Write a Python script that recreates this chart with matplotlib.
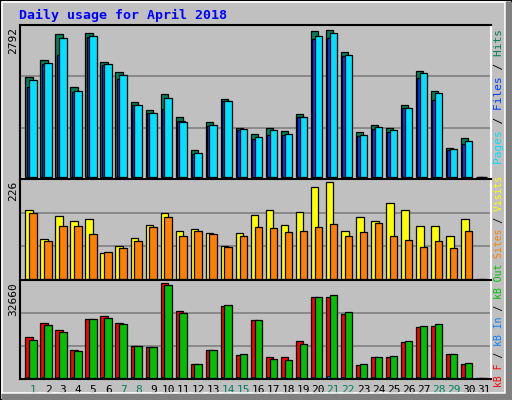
import matplotlib
matplotlib.use("Agg")
import matplotlib.pyplot as plt
from matplotlib.patches import Rectangle
import numpy as np

days = list(range(1, 32))
day_labels = [str(d) for d in days]
weekend = [1, 7, 8, 14, 15, 21, 22, 28, 29]

hits = [1903, 2224, 2716, 1714, 2735, 2187, 1998, 1431, 1280, 1582, 1147, 505, 1034, 1487, 920,
        807, 920, 864, 1204, 2773, 2792, 2376, 845, 977, 920, 1374, 2019, 1641, 542, 731, 0]
files = [1847, 2174, 2640, 1639, 2678, 2149, 1941, 1374, 1223, 1506, 1034, 448, 977, 1450, 902,
         750, 883, 807, 1147, 2678, 2735, 2319, 788, 939, 883, 1317, 1979, 1601, 524, 675, 0]
pages = [1714, 2155, 2319, 1620, 2659, 2130, 1865, 1361, 1210, 1285, 1058, 435, 964, 1436, 888,
         718, 794, 794, 1134, 2627, 2646, 2306, 775, 907, 850, 1304, 1890, 1455, 510, 624, 0]
visits = [160, 94, 148, 135, 140, 60, 77, 96, 126, 155, 111, 116, 106, 77, 106,
          150, 162, 126, 157, 214, 226, 111, 145, 135, 177, 162, 123, 123, 101, 140, 0]
sites = [153, 89, 123, 123, 104, 62, 72, 89, 121, 145, 99, 111, 104, 74, 99,
         121, 118, 109, 111, 121, 128, 101, 109, 131, 99, 91, 74, 89, 72, 111, 0]
kbf = [14000, 19000, 16500, 9700, 20450, 21200, 19000, 11000, 10750, 32660, 23000, 4670, 9700, 24870, 7890,
       20100, 7180, 7180, 12560, 27990, 27990, 21900, 4300, 7180, 7180, 12200, 17580, 17940, 8250, 4670, 0]
kbout = [12900, 18300, 15800, 9330, 20450, 20800, 18650, 11000, 10750, 31900, 22250, 4670, 9700, 25240, 8250,
         20100, 6460, 6100, 11480, 27990, 28700, 22600, 4670, 7180, 7540, 12560, 17940, 18650, 8250, 5020, 0]
kbin = [300, 300, 300, 300, 300, 300, 300, 150, 150, 150, 150, 150, 150, 300, 150,
        150, 150, 150, 150, 300, 500, 300, 150, 150, 150, 150, 300, 300, 150, 150, 0]

GRAY = "#c0c0c0"
fig = plt.figure(figsize=(5.12, 4.0), dpi=100, facecolor=GRAY)
W, H = 512, 400

def axes_px(x0, y0, x1, y1):
    return fig.add_axes([x0 / W, 1 - y1 / H, (x1 - x0) / W, (y1 - y0) / H])

x = np.array(days, dtype=float)
ew = 0.9
xl = (0.13, 31.5)

def style(ax, vmax):
    ax.set_facecolor(GRAY)
    ax.set_xlim(*xl)
    ax.set_ylim(-vmax * 0.015, vmax * 1.035)
    lo, hi = ax.get_ylim()
    for f in (1 / 3, 2 / 3):
        ax.axhline(lo + f * (hi - lo), color="#808080", lw=1.2, zorder=0)
    ax.set_yticks([])
    ax.spines["left"].set_color("black")
    ax.spines["top"].set_color("black")
    ax.spines["right"].set_color("white")
    ax.spines["bottom"].set_color("white")
    for s in ax.spines.values():
        s.set_linewidth(1.5)

ax1 = axes_px(20, 25, 491, 179)
ax1.bar(x - 0.51, hits, width=0.49, align="edge", color="#00805c", edgecolor="black", lw=ew, zorder=2)
ax1.bar(x - 0.4, pages, width=0.49, align="edge", color="#0040ff", edgecolor="black", lw=ew, zorder=3)
ax1.bar(x - 0.25, files, width=0.49, align="edge", color="#00e0ff", edgecolor="black", lw=ew, zorder=4)
style(ax1, max(hits))
ax1.set_xticks([])

ax2 = axes_px(20, 179, 491, 280)
ax2.bar(x - 0.51, visits, width=0.52, align="edge", color="#ffff00", edgecolor="black", lw=ew, zorder=2)
ax2.bar(x - 0.25, sites, width=0.49, align="edge", color="#ff8000", edgecolor="black", lw=ew, zorder=3)
style(ax2, max(visits))
ax2.set_xticks([])

ax3 = axes_px(20, 280, 491, 379)
ax3.bar(x - 0.51, kbf, width=0.49, align="edge", color="#ff0000", edgecolor="black", lw=ew, zorder=2)
ax3.bar(x - 0.4, kbin, width=0.2, align="edge", color="#0080ff", edgecolor="black", lw=0.5, zorder=3)
ax3.bar(x - 0.25, kbout, width=0.49, align="edge", color="#00c000", edgecolor="black", lw=ew, zorder=4)
style(ax3, max(kbf))
ax3.spines["bottom"].set_color("black")
ax3.set_xticks(x)
ax3.set_xticklabels(day_labels, family="DejaVu Sans Mono", fontsize=8)
ax3.tick_params(axis="x", length=0, pad=4)
for d, t in zip(days, ax3.get_xticklabels()):
    t.set_color("#00805c" if d in weekend else "black")

mono = "DejaVu Sans Mono"
fig.text(19 / W, 1 - 15 / H, "Daily usage for April 2018", color="#0000ff", family=mono,
         fontsize=9.5, fontweight="bold", va="center", ha="left")
for txt, ytop in [(str(max(hits)), 27), (str(max(visits)), 181), (str(max(kbf)), 282)]:
    fig.text(13 / W, 1 - ytop / H, txt, rotation=90, family=mono, fontsize=8, ha="center", va="top")

def vlabel(parts, ybottom, fs, xc=499):
    full = "".join(s for s, _ in parts)
    pos = 0
    for s, c in parts:
        padded = " " * pos + s + " " * (len(full) - pos - len(s))
        fig.text(xc / W, 1 - ybottom / H, padded, rotation=90, family=mono, fontsize=fs, color=c,
                 ha="center", va="bottom")
        pos += len(s)

vlabel([("Pages", "#00e0ff"), (" / ", "black"), ("Files", "#0040ff"), (" / ", "black"), ("Hits", "#00805c")], 164, 8.0)
vlabel([("Sites", "#ff8000"), (" / ", "black"), ("Visits", "#ffff00")], 258, 7.0)
vlabel([("kB F", "#ff0000"), (" / ", "black"), ("kB In", "#0080ff"), (" / ", "black"), ("kB Out", "#00c000")], 387, 7.0)

fig.patches.append(Rectangle((0, 0), 1, 1, transform=fig.transFigure, fill=False, edgecolor="black", lw=1.5))
fig.patches.append(Rectangle((1.5 / W, 7 / H), (W - 9) / W, (H - 8.5) / H, transform=fig.transFigure,
                             fill=False, edgecolor="white", lw=1.2))
fig.patches.append(Rectangle((1 - 6 / W, 0), 5 / W, 1 - 2 / H, transform=fig.transFigure, color="#808080"))
fig.patches.append(Rectangle((2 / W, 1 / H), 1 - 3 / W, 5 / H, transform=fig.transFigure, color="#808080"))

fig.savefig("out.png", dpi=100, facecolor=GRAY)
